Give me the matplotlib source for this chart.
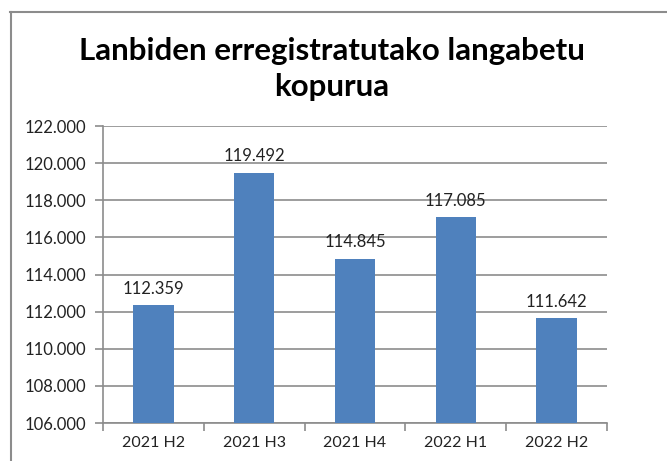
import matplotlib
matplotlib.use("Agg")
import matplotlib.pyplot as plt
from matplotlib.lines import Line2D
from matplotlib.ticker import FuncFormatter, FixedLocator

categories = ["2021 H2", "2021 H3", "2021 H4", "2022 H1", "2022 H2"]
values = [112359, 119492, 114845, 117085, 111642]
title = "Lanbiden erregistratutako langabetu\nkopurua"

def fmt(v):
    return f"{int(v):,}".replace(",", ".")

W, H = 667, 461
fig = plt.figure(figsize=(W / 100, H / 100), dpi=100)
fig.patch.set_facecolor("white")
font = ["Lato", "DejaVu Sans"]

ax = fig.add_axes([103 / W, 1 - 423 / H, (607 - 103) / W, (423 - 126) / H])
x = list(range(len(categories)))
ax.bar(x, values, width=0.4, color="#4F81BD", zorder=3)
ax.set_xlim(-0.5, len(categories) - 0.5)
ax.set_ylim(106000, 122000)
ax.set_yticks(range(106000, 122001, 2000))
ax.yaxis.set_major_formatter(FuncFormatter(lambda v, p: fmt(v)))
ax.grid(axis="y", color="#8C8C8C", linewidth=1.2, zorder=0)
ax.set_xticks(x)
ax.set_xticklabels(categories)
ax.xaxis.set_minor_locator(FixedLocator([i - 0.5 for i in range(len(categories) + 1)]))
ax.tick_params(axis="x", which="major", length=0, pad=9)
ax.tick_params(axis="x", which="minor", length=6, color="#8C8C8C", width=1.2)
ax.tick_params(axis="y", length=6, color="#8C8C8C", width=1.2, pad=6)
for lab in ax.get_xticklabels():
    lab.set_fontfamily(font)
    lab.set_fontsize(11.5)
    lab.set_color("#222222")
for lab in ax.get_yticklabels():
    lab.set_fontfamily(font)
    lab.set_fontsize(12)
    lab.set_color("#222222")
for s in ["top", "right"]:
    ax.spines[s].set_visible(False)
for s in ["left", "bottom"]:
    ax.spines[s].set_color("#8C8C8C")
    ax.spines[s].set_linewidth(1.2)

for xi, v in zip(x, values):
    ax.annotate(fmt(v), (xi, v), xytext=(0, 6), textcoords="offset points",
                ha="center", va="bottom", fontsize=12, family=font, color="#222222")

fig.text(0.5 * (85 + 578) / W, 1 - 69 / H, title, ha="center", va="center",
         fontsize=22.5, fontweight="bold", family=font, linespacing=1.32)

fig.add_artist(Line2D([10 / W, 1], [1 - 12 / H, 1 - 12 / H], transform=fig.transFigure,
                      color="#8C8C8C", linewidth=1.5))
fig.add_artist(Line2D([11 / W, 11 / W], [0, 1 - 12 / H], transform=fig.transFigure,
                      color="#8C8C8C", linewidth=1.5))

fig.savefig("out.png", dpi=100)
